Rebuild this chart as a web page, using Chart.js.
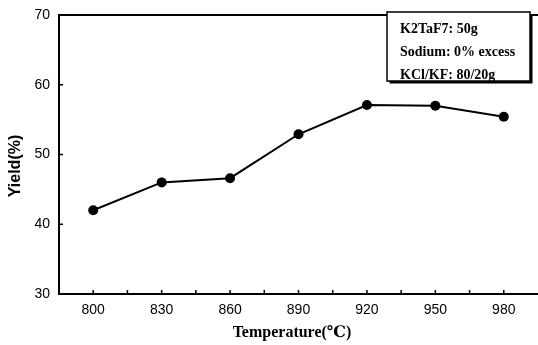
<!DOCTYPE html>
<html lang="en">
<head>
<meta charset="UTF-8">
<title>Yield vs Temperature</title>
<script src="https://cdn.jsdelivr.net/npm/chart.js"></script>
<style>
    html, body { margin: 0; padding: 0; background: #fff; overflow: hidden; }
    .chart-container { width: 538px; height: 345px; }
</style>
</head>
<body>
<div class="chart-container">
    <canvas id="myChart" width="538" height="345"></canvas>
</div>
<script>
    // data
    const temperatures = [800, 830, 860, 890, 920, 950, 980];
    const yieldValues = [42.0, 46.0, 46.6, 52.9, 57.1, 57.0, 55.4];
    const xTickLabels = [800, 830, 860, 890, 920, 950, 980];
    const xMinorTicks = [815, 845, 875, 905, 935, 965];
    const yTickLabels = [30, 40, 50, 60, 70];
    const noteLines = ['K2TaF7: 50g', 'Sodium: 0% excess', 'KCl/KF: 80/20g'];
    const xTitle = 'Temperature(℃)';
    const yTitle = 'Yield(%)';

    const serif = "'Liberation Serif', 'DejaVu Serif', serif";
    const sans = "'Liberation Sans', Arial, sans-serif";

    // inward ticks, top frame line, axis titles and the note box
    const framePlugin = {
        id: 'frame',
        afterDraw(chart) {
            const { ctx, chartArea, scales } = chart;
            ctx.save();
            ctx.strokeStyle = '#000';
            ctx.lineWidth = 1.5;
            ctx.beginPath();
            xTickLabels.concat(xMinorTicks).forEach(v => {
                const px = scales.x.getPixelForValue(v);
                ctx.moveTo(px, chartArea.bottom);
                ctx.lineTo(px, chartArea.bottom - 4);
            });
            yTickLabels.forEach(v => {
                const py = scales.y.getPixelForValue(v);
                ctx.moveTo(chartArea.left, py);
                ctx.lineTo(chartArea.left + 4, py);
            });
            ctx.stroke();

            // top frame
            ctx.lineWidth = 2;
            ctx.beginPath();
            ctx.moveTo(chartArea.left - 1, chartArea.top);
            ctx.lineTo(chartArea.right, chartArea.top);
            ctx.stroke();

            // axis titles
            ctx.fillStyle = '#000';
            ctx.textAlign = 'center';
            ctx.textBaseline = 'alphabetic';
            ctx.font = 'bold 16px ' + serif;
            ctx.fillText(xTitle, 292, 337);
            ctx.save();
            ctx.translate(16, 166);
            ctx.rotate(-Math.PI / 2);
            ctx.textBaseline = 'middle';
            ctx.font = 'bold 16px ' + sans;
            ctx.fillText(yTitle, 0, 0);
            ctx.restore();

            // note box with shadow
            const bx = 387, by = 12, bw = 143, bh = 69;
            ctx.fillStyle = '#000';
            ctx.fillRect(bx + 2.5, by + 2.5, bw, bh);
            ctx.fillStyle = '#fff';
            ctx.fillRect(bx, by, bw, bh);
            ctx.lineWidth = 1.5;
            ctx.strokeRect(bx, by, bw, bh);
            ctx.fillStyle = '#000';
            ctx.font = 'bold 14px ' + serif;
            ctx.textBaseline = 'middle';
            ctx.textAlign = 'left';
            noteLines.forEach((t, i) => {
                ctx.fillText(t, bx + 13, by + 17 + i * 23);
            });
            ctx.restore();
        }
    };

    const ctx = document.getElementById('myChart').getContext('2d');
    const myChart = new Chart(ctx, {
        type: 'line',
        data: {
            datasets: [{
                data: temperatures.map((t, i) => ({ x: t, y: yieldValues[i] })),
                borderColor: '#000',
                backgroundColor: '#000',
                borderWidth: 2,
                pointRadius: 5,
                pointBackgroundColor: '#000',
                pointBorderWidth: 0,
                tension: 0
            }]
        },
        options: {
            responsive: false,
            animation: false,
            layout: { autoPadding: false, padding: { top: 15, right: 0, left: 0, bottom: 0 } },
            plugins: {
                legend: { display: false },
                tooltip: { enabled: false }
            },
            scales: {
                x: {
                    type: 'linear',
                    min: 785,
                    max: 995,
                    afterBuildTicks: scale => {
                        scale.ticks = xTickLabels.map(v => ({ value: v }));
                    },
                    afterFit: scale => {
                        scale.height = 51;
                        scale.paddingLeft = 0;
                        scale.paddingRight = 0;
                    },
                    grid: { display: false, drawTicks: false },
                    border: { display: true, color: '#000', width: 2 },
                    ticks: {
                        color: '#000',
                        padding: 8,
                        maxRotation: 0,
                        font: { family: sans, size: 14 }
                    }
                },
                y: {
                    min: 30,
                    max: 70,
                    afterBuildTicks: scale => {
                        scale.ticks = yTickLabels.map(v => ({ value: v }));
                    },
                    afterFit: scale => {
                        scale.width = 59;
                        scale.paddingTop = 0;
                        scale.paddingBottom = 0;
                    },
                    grid: { display: false, drawTicks: false },
                    border: { display: true, color: '#000', width: 2 },
                    ticks: {
                        color: '#000',
                        padding: 9,
                        font: { family: sans, size: 14 }
                    }
                }
            }
        },
        plugins: [framePlugin]
    });
</script>
</body>
</html>
